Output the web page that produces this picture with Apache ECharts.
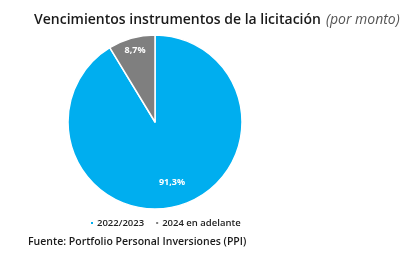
<!DOCTYPE html>
<html><head><meta charset="utf-8">
<script src="https://cdn.jsdelivr.net/npm/echarts@6/dist/echarts.min.js"></script>
<style>html,body{margin:0;padding:0;background:#fff}#c{width:420px;height:255px}</style>
</head><body><div id="c"></div>
<script>
const categories = ['2022/2023', '2024 en adelante'];
const values = [91.3, 8.7];
const labels = ['91,3%', '8,7%'];
const colors = ['#00AEEF', '#7F7F7F'];

const chart = echarts.init(document.getElementById('c'), null, {renderer: 'canvas'});
const FONT = '"Open Sans", sans-serif';
const data = categories.map((c, i) => ({name: c, value: values[i], itemStyle: {color: colors[i]}}));
function overlay(idx, radius) {
  return {
    type: 'pie', center: [155, 122], radius: radius, silent: true, legendHoverLink: false,
    startAngle: 90, clockwise: true, animation: false,
    itemStyle: {color: 'rgba(0,0,0,0)', borderWidth: 0},
    labelLine: {show: false},
    data: categories.map((c, i) => ({
      name: c, value: values[i],
      label: {show: i === idx, position: 'inside', formatter: labels[i], color: '#fff',
        fontSize: 9, fontWeight: 'bold', fontFamily: FONT}
    }))
  };
}
chart.setOption({
  animation: false,
  title: [{
    text: '{a|Vencimientos instrumentos de la licitación} {b|(por monto)}',
    left: 29, top: 6,
    textStyle: {rich: {
      a: {fontFamily: FONT, fontSize: 14, fontWeight: 600, color: '#1a1a1a'},
      b: {fontFamily: FONT, fontSize: 14, fontStyle: 'italic', fontWeight: 'normal', color: '#555'}
    }}
  }, {
    text: 'Fuente: Portfolio Personal Inversiones (PPI)',
    left: 23, top: 232,
    textStyle: {fontFamily: FONT, fontSize: 10.5, fontWeight: 600, color: '#1a1a1a'}
  }],
  legend: {
    data: categories, left: 84, top: 213, icon: 'rect', itemWidth: 4, itemHeight: 4, itemGap: 10,
    textStyle: {fontFamily: FONT, fontSize: 9.5, fontWeight: 600, color: '#222', padding: [0,0,0,-2]}
  },
  series: [{
    type: 'pie', center: [155, 122], radius: [0, 87], startAngle: 90, clockwise: true,
    label: {show: false}, labelLine: {show: false},
    itemStyle: {borderColor: '#fff', borderWidth: 1.5},
    data: data
  }, overlay(1, [54, 88]), overlay(0, [40, 80])]
});
</script></body></html>
